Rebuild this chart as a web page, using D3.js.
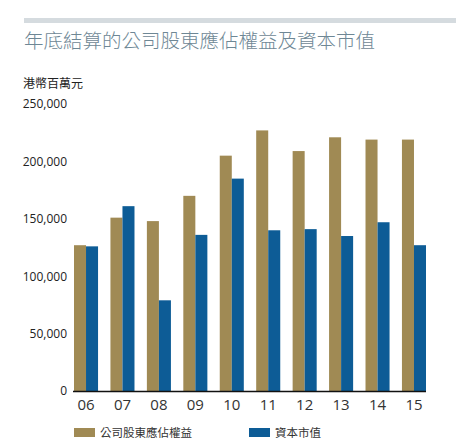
<!DOCTYPE html>
<html><head><meta charset="utf-8">
<script src="https://cdn.jsdelivr.net/npm/d3@7"></script>
<style>body{margin:0;background:#fff;}svg{display:block;}</style>
</head><body>
<svg id="c" width="456" height="447"></svg>
<script>
const title = "年底結算的公司股東應佔權益及資本市值";
const unitLabel = "港幣百萬元";
const years = ["06","07","08","09","10","11","12","13","14","15"];
const seriesNames = ["公司股東應佔權益","資本市值"];
const equity = [127000,151000,148000,170000,205000,227000,209000,221000,219000,219000];
const marketCap = [126000,161000,79000,136000,185000,140000,141000,135000,147000,127000];
const yTicks = [0,50000,100000,150000,200000,250000];
const colors = ["#a08a54","#0d5c96"];

const svg = d3.select("#c");
const font = "'Noto Sans CJK TC','Noto Sans',sans-serif";

svg.append("rect").attr("x",24).attr("y",18).attr("width",432).attr("height",5).attr("fill","#d5dbdf");
svg.append("text").attr("x",24).attr("y",48).text(title)
  .attr("font-family",font).attr("font-size",19.5).attr("font-weight",300).attr("fill","#6e8795");
svg.append("text").attr("x",23).attr("y",88).text(unitLabel)
  .attr("font-family",font).attr("font-size",12).attr("fill","#222");

const x = d3.scaleBand().domain(years).range([74,426]).paddingInner(0.34).paddingOuter(0);
const xs = d3.scaleBand().domain([0,1]).range([0,x.bandwidth()]);
const y = d3.scaleLinear().domain([0,250000]).range([391,104]);

const data = years.map((yr,i)=>({yr, vals:[equity[i],marketCap[i]]}));
const g = svg.append("g");
g.selectAll("g.grp").data(data).join("g").attr("class","grp")
  .attr("transform",d=>`translate(${x(d.yr)},0)`)
  .selectAll("rect").data(d=>d.vals.map((v,k)=>({v,k}))).join("rect")
  .attr("x",d=>xs(d.k)).attr("width",xs.bandwidth())
  .attr("y",d=>y(d.v)).attr("height",d=>y(0)-y(d.v))
  .attr("fill",d=>colors[d.k]);

const yAxis = svg.append("g").attr("transform","translate(67,0)")
  .call(d3.axisLeft(y).tickValues(yTicks).tickSize(0).tickPadding(0).tickFormat(d3.format(",")));
yAxis.select(".domain").remove();
yAxis.selectAll("text").attr("font-family","'Open Sans','Noto Sans',sans-serif").attr("font-size",12).attr("fill","#222");

const xAxis = svg.append("g").attr("transform","translate(0,391)")
  .call(d3.axisBottom(x).tickSize(0).tickPadding(8));
xAxis.select(".domain").attr("d","M73,0.5H426").attr("stroke","#111").attr("stroke-width",1.5);
xAxis.selectAll("text").attr("font-family","'Open Sans','Noto Sans',sans-serif").attr("font-size",15).attr("fill","#333");

const legend = svg.append("g");
const lx = [74,249];
seriesNames.forEach((n,k)=>{
  legend.append("rect").attr("x",lx[k]).attr("y",428).attr("width",21).attr("height",9).attr("fill",colors[k]);
  legend.append("text").attr("x",lx[k]+26).attr("y",437).text(n)
    .attr("font-family",font).attr("font-size",11.5).attr("fill","#333");
});
</script>
</body></html>
